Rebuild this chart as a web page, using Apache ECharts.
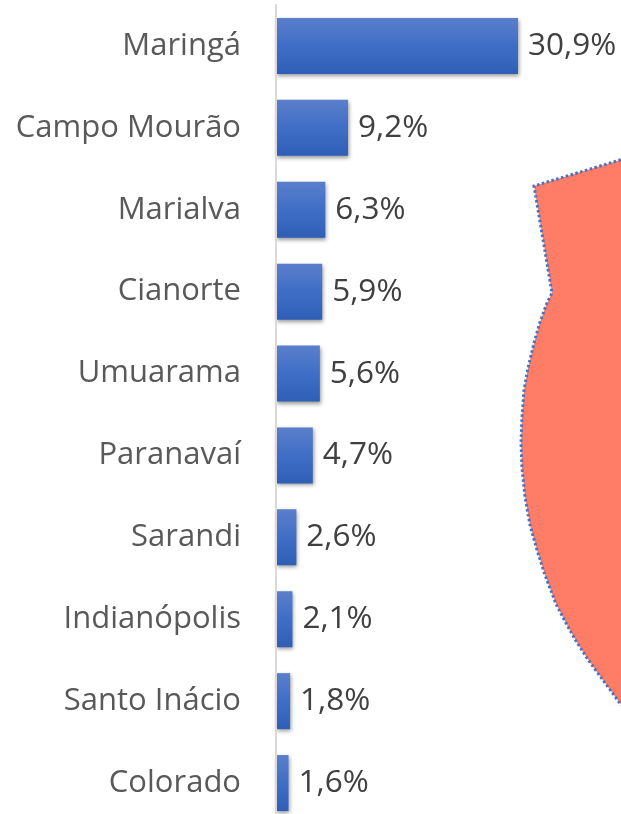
<!DOCTYPE html>
<html><head><meta charset="utf-8">
<style>html,body{margin:0;padding:0;background:#fff}#c{width:621px;height:814px}</style>
<script src="https://cdn.jsdelivr.net/npm/echarts@6/dist/echarts.min.js"></script>
</head><body><div id="c"></div>
<script>
const categories = ['Maringá','Campo Mourão','Marialva','Cianorte','Umuarama','Paranavaí','Sarandi','Indianópolis','Santo Inácio','Colorado'];
const shares = [30.9,9.2,6.3,5.9,5.6,4.7,2.6,2.1,1.8,1.6];
const regionOutline = [[640,154],[534,186],[552,293],[547,303],[540,322],[534,343],[528,368],[524,390],[522,417],[521,443],[522,468],[525,497],[530,525],[537,550],[545,575],[556,604],[567,625],[576,641],[587,658],[597,672],[619,702],[640,726]];
const chart = echarts.init(document.getElementById('c'),null,{renderer:'canvas'});
const font = '"Open Sans", sans-serif';
chart.setOption({
  animation:false,
  grid:{left:276,top:5,width:242,height:819,containLabel:false,outerBoundsMode:'none'},
  xAxis:{type:'value',min:0,max:30.9,show:false},
  yAxis:{type:'category',inverse:true,data:categories,z:5,
    axisLine:{show:true,lineStyle:{color:'#d9d9d9',width:2}},
    axisTick:{show:false},
    axisLabel:{color:'#595959',fontFamily:font,fontSize:31,margin:35,align:'right',padding:[0,0,2,0]}},
  series:[{type:'bar',data:shares,barWidth:56,
    itemStyle:{color:new echarts.graphic.LinearGradient(0,0,0,1,[{offset:0,color:'#5a7fcb'},{offset:0.5,color:'#3f6ec6'},{offset:1,color:'#2e5fb5'}]),
      shadowColor:'rgba(0,0,0,0.4)',shadowBlur:4,shadowOffsetX:1,shadowOffsetY:2},
    label:{show:true,position:'right',distance:10,color:'#404040',fontFamily:font,fontSize:31.5,
      formatter:p=>p.value.toFixed(1).replace('.',',')+'%'}}],
  graphic:[{type:'polygon',z:10,shape:{points:regionOutline},
    style:{fill:'#ff7c66',stroke:'#4472c4',lineWidth:3,lineDash:[2.5,2.5]}}]
});
</script></body></html>
